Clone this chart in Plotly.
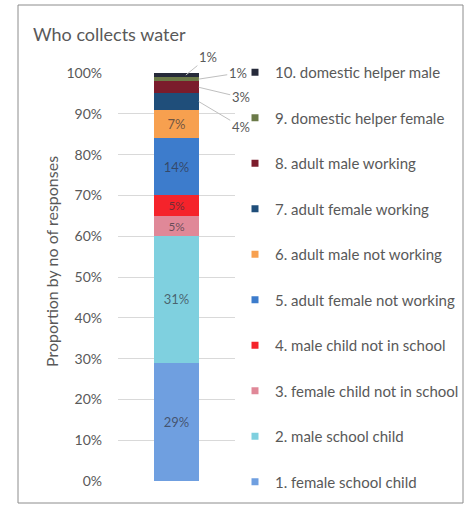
import plotly.graph_objects as go

# ---- data ----
categories = ["1. female school child", "2. male school child", "3. female child not in school",
              "4. male child not in school", "5. adult female not working", "6. adult male not working",
              "7. adult female working", "8. adult male working", "9. domestic helper female",
              "10. domestic helper male"]
values = [29, 31, 5, 5, 14, 7, 4, 3, 1, 1]
colors = ["#6f9fe0", "#7fd0df", "#e08898", "#f5232b", "#3d7ccc", "#f7a04f",
          "#1f4e7a", "#7b1c2c", "#6b7a48", "#262a3a"]
y_ticks = list(range(0, 101, 10))
y_title = "Proportion by no of responses"
inside_min = 5  # values >= this get labels inside the bar

W, H = 468, 506
L, R, T, B = 118, 233, 73, 25
pw, ph = W - L - R, H - T - B

def px_x(p):
    return (p - L) / pw

def px_y(p):
    return 1 - (p - T) / ph

fig = go.Figure()
FONT = "Lato, Open Sans, sans-serif"
TXT = "#595959"

for c, v, col in zip(categories, values, colors):
    fig.add_trace(go.Bar(
        x=["All"], y=[v], name=c, marker=dict(color=col, line=dict(width=0)),
        text=[f"{v}%" if v >= inside_min else ""], textposition="inside",
        insidetextanchor="middle", textangle=0,
        textfont=dict(size=13, color="rgba(50,50,60,0.7)", family=FONT),
        showlegend=False, hoverinfo="skip"))

# legend entries, top entry = last category
for c, col in zip(reversed(categories), reversed(colors)):
    fig.add_trace(go.Scatter(
        x=["All"], y=[None], mode="markers", name=c,
        marker=dict(symbol="square", size=7, color=col), showlegend=True,
        legendgroup=c, hoverinfo="skip"))

# outside labels for small segments with leader lines
offsets = {6: (0.19, 42, 25), 7: (0.19, 42, 10), 8: (0.19, 39, -6), 9: (0.08, 22, -18)}
cum = 0
for i, v in enumerate(values):
    mid = cum + v / 2
    cum += v
    if i in offsets:
        xx, ax, ay = offsets[i]
        fig.add_annotation(x=xx, y=mid, xref="x", yref="y", text=f"{v}%",
                           showarrow=True, arrowhead=0, arrowwidth=1,
                           arrowcolor="#bfbfbf", ax=ax, ay=ay,
                           font=dict(size=13, color=TXT, family=FONT))

# y-axis title
fig.add_annotation(x=px_x(51), y=px_y(262), xref="paper", yref="paper", text=y_title,
                   textangle=-90, showarrow=False, xanchor="center", yanchor="middle",
                   font=dict(size=16, color=TXT, family=FONT))

fig.update_layout(
    width=W, height=H, barmode="stack", bargap=0.61,
    margin=dict(l=L, r=R, t=T, b=B, autoexpand=False),
    paper_bgcolor="white", plot_bgcolor="white",
    font=dict(family=FONT, color=TXT, size=12),
    title=dict(text="Who collects water", x=33 / W, xanchor="left", xref="container",
               y=1 - 35 / H, yanchor="middle", yref="container",
               font=dict(size=18, color=TXT, family=FONT)),
    legend=dict(xref="container", yref="container", x=235 / W, y=1 - 56 / H,
                xanchor="left", yanchor="top", traceorder="grouped",
                tracegroupgap=23, font=dict(size=15, color=TXT, family=FONT),
                bgcolor="rgba(0,0,0,0)", itemclick=False, maxheight=480),
    showlegend=True,
)
fig.update_xaxes(showticklabels=False, showgrid=False, zeroline=False, showline=False,
                 range=[-0.5, 0.5], type="category")
fig.update_yaxes(range=[0, 100], tickvals=y_ticks, ticktext=[f"{t}%" for t in y_ticks],
                 showgrid=True, gridcolor="#d9d9d9", gridwidth=1, zeroline=False,
                 showline=False, ticks="", ticklabelstandoff=15,
                 tickfont=dict(size=14, color=TXT, family=FONT))

fig.add_shape(type="rect", xref="paper", yref="paper",
              x0=px_x(18), x1=px_x(463), y0=px_y(503), y1=px_y(5),
              line=dict(color="#8c8c8c", width=1), layer="below")

fig.write_html("out.html", config={"displayModeBar": False},
               post_script="document.body.style.margin='0px';")
